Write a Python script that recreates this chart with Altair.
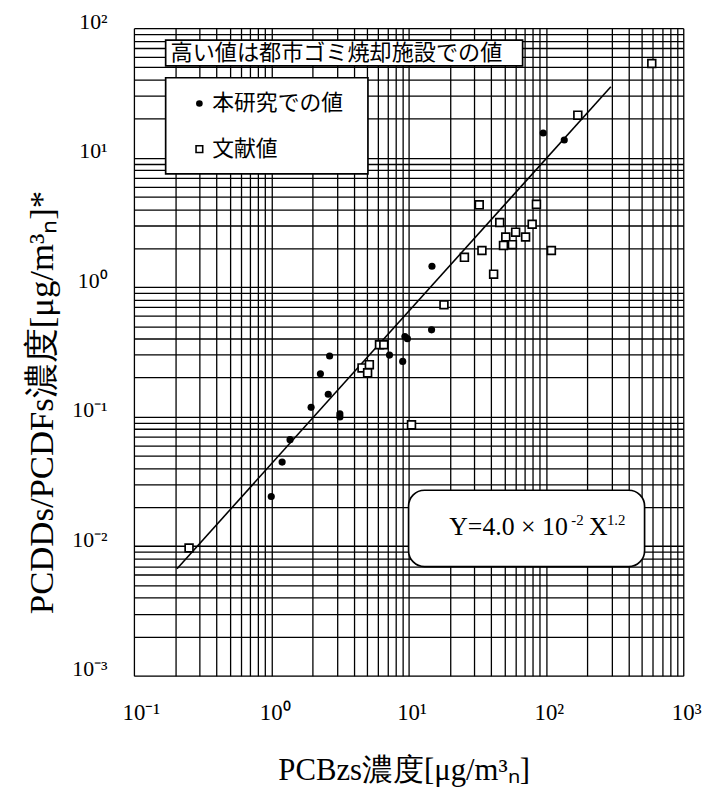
import altair as alt
import pandas as pd

# ---- data ----
study_x = [95.5, 136, 14.8, 14.7, 9.4, 9.8, 7.26, 9.06, 2.66, 2.28, 2.60, 1.95, 3.16, 3.16, 1.37, 1.20, 1.00]
study_y = [15.5, 13.7, 1.45, 0.468, 0.416, 0.40, 0.299, 0.267, 0.294, 0.214, 0.149, 0.118, 0.105, 0.0995, 0.0664, 0.0446, 0.0242]

lit_x = [590, 170.7, 32.7, 85.3, 46.1, 79.4, 60.2, 51.0, 71.1, 49.1, 57.0, 34.2, 109.6, 25.5, 41.6,
         18.1, 6.14, 6.6, 4.58, 5.18, 5.03, 10.5, 0.252]
lit_y = [53.3, 21.3, 4.32, 4.36, 3.16, 3.06, 2.66, 2.44, 2.44, 2.10, 2.13, 1.92, 1.92, 1.70, 1.26,
         0.731, 0.359, 0.359, 0.238, 0.252, 0.218, 0.0865, 0.00967]

fit_x = [0.206, 297]
fit_y = [0.0067, 35.3]

x_ticks = [round(k * 10.0 ** d, 6) for d in range(-1, 3) for k in range(1, 10)] + [1000.0]
y_ticks = [round(k * 10.0 ** d, 6) for d in range(-3, 2) for k in range(1, 10)] + [100.0]

W, H = 554, 653
SERIF = "Liberation Serif"
CJK = "Noto Sans CJK JP"

study = pd.DataFrame({"x": study_x, "y": study_y})
lit = pd.DataFrame({"x": lit_x, "y": lit_y})
fit = pd.DataFrame({"x": fit_x, "y": fit_y})

xlab = ("datum.value==0.1?'10⁻¹':datum.value==1?'10⁰':datum.value==10?'10¹':"
        "datum.value==100?'10²':datum.value==1000?'10³':''")
ylab = ("datum.value==0.001?'10⁻³':datum.value==0.01?'10⁻²':datum.value==0.1?'10⁻¹':"
        "datum.value==1?'10⁰':datum.value==10?'10¹':datum.value==100?'10²':''")

xaxis = alt.Axis(values=x_ticks, labelExpr=xlab, ticks=False, domain=False,
                 grid=True, gridColor="black", gridOpacity=1, gridWidth=1.3,
                 labelFont=SERIF, labelFontSize=23, labelColor="black",
                 labelAlign="left", labelOffset=-12, labelBaseline="alphabetic",
                 labelPadding=44, labelOverlap=False, labelFlush=False,
                 title="PCBzs濃度[μg/m³ₙ]", titleFont=SERIF, titleFontSize=31,
                 titleFontWeight="normal", titleColor="black",
                 titleBaseline="alphabetic", titleX=272, titleY=105)
yaxis = alt.Axis(values=y_ticks, labelExpr=ylab, ticks=False, domain=False,
                 grid=True, gridColor="black", gridOpacity=1, gridWidth=1.3,
                 labelFont=SERIF, labelFontSize=22, labelColor="black",
                 labelBaseline="alphabetic", labelPadding=27, labelOverlap=False,
                 labelFlush=False,
                 title="PCDDs/PCDFs濃度[μg/m³ₙ]*", titleFont=SERIF, titleFontSize=35,
                 titleFontWeight="normal", titleColor="black",
                 titleX=-93, titleY=377, titleBaseline="middle")

xs = alt.Scale(type="log", domain=[0.1, 1000], nice=False)
ys = alt.Scale(type="log", domain=[0.001, 100], nice=False)

line = alt.Chart(fit).mark_line(color="black", strokeWidth=1.6).encode(
    x=alt.X("x:Q", scale=xs, axis=xaxis),
    y=alt.Y("y:Q", scale=ys, axis=yaxis),
)
pts_lit = alt.Chart(lit).mark_square(size=62, fill="white", stroke="black",
                                     strokeWidth=1.7, opacity=1).encode(
    x=alt.X("x:Q", scale=xs, axis=xaxis),
    y=alt.Y("y:Q", scale=ys, axis=yaxis),
)
pts_study = alt.Chart(study).mark_circle(size=52, color="black", opacity=1).encode(
    x=alt.X("x:Q", scale=xs, axis=xaxis),
    y=alt.Y("y:Q", scale=ys, axis=yaxis),
)

one = pd.DataFrame({"a": [0]})


def box(x1, x2, y1, y2, r=0):
    return alt.Chart(one).mark_rect(fill="white", stroke="black", strokeWidth=1.7,
                                    cornerRadius=r).encode(
        x=alt.value(x1), x2=alt.value(x2), y=alt.value(y1), y2=alt.value(y2))


def txt(s, x, y, size, font, align="left", baseline="middle"):
    return alt.Chart(one).mark_text(text=s, font=font, fontSize=size, color="black",
                                    align=align, baseline=baseline).encode(
        x=alt.value(x), y=alt.value(y))


note_box = box(32, 392, 12, 38)
note_txt = txt("高い値は都市ゴミ焼却施設での値", 37, 25.5, 22.3, CJK)
leg_box = box(32, 236, 50, 147)
leg_dot = alt.Chart(one).mark_circle(size=45, color="black", opacity=1).encode(
    x=alt.value(66), y=alt.value(76))
leg_sq = alt.Chart(one).mark_square(size=45, fill="white", stroke="black",
                                    strokeWidth=1.6, opacity=1).encode(
    x=alt.value(66), y=alt.value(122))
leg_t1 = txt("本研究での値", 79, 76, 22, CJK)
leg_t2 = txt("文献値", 79, 122, 22, CJK)

eq_box = box(277, 515, 466, 543, r=16)
eq1 = txt("Y=4.0 × 10", 318, 511.5, 26, SERIF, baseline="alphabetic")
eq2 = txt("-2", 441, 501, 15, SERIF, baseline="alphabetic")
eq3 = txt("X", 459, 511.5, 26, SERIF, baseline="alphabetic")
eq4 = txt("1.2", 477, 501, 15, SERIF, baseline="alphabetic")

chart = alt.layer(
    line, pts_lit, pts_study,
    note_box, note_txt, leg_box, leg_dot, leg_sq, leg_t1, leg_t2,
    eq_box, eq1, eq2, eq3, eq4,
).properties(
    width=W, height=H,
    autosize=alt.AutoSizeParams(type="none"),
    padding={"left": 127, "top": 17, "right": 30, "bottom": 114},
).configure_view(stroke="black", strokeWidth=1.8).configure(background="white")

chart.save("out.html", embed_options={"renderer": "svg", "actions": False})
